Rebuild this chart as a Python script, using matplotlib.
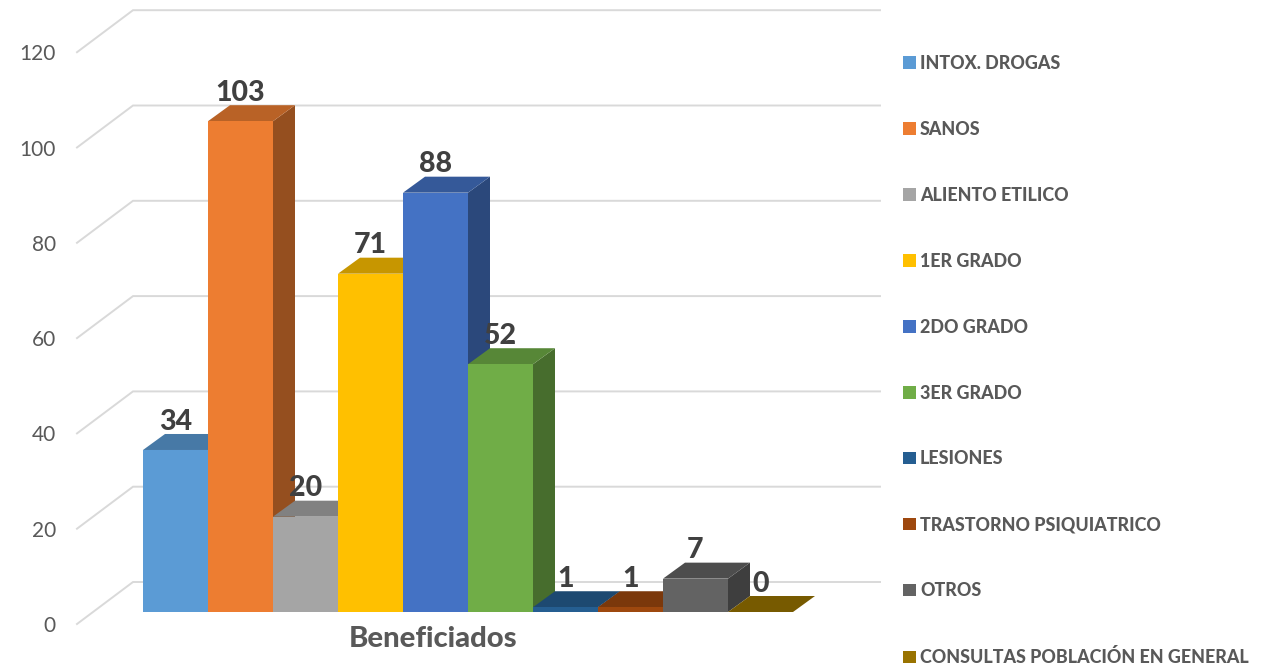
import matplotlib
matplotlib.use("Agg")
import matplotlib.pyplot as plt
from matplotlib.patches import Patch, Polygon
from matplotlib.colors import to_rgb

categories = ["INTOX. DROGAS", "SANOS", "ALIENTO ETILICO", "1ER GRADO", "2DO GRADO",
              "3ER GRADO", "LESIONES", "TRASTORNO PSIQUIATRICO", "OTROS",
              "CONSULTAS POBLACIÓN EN GENERAL"]
values = [34, 103, 20, 71, 88, 52, 1, 1, 7, 0]
colors = ["#5B9BD5", "#ED7D31", "#A5A5A5", "#FFC000", "#4472C4",
          "#70AD47", "#255E91", "#9E480E", "#636363", "#997300"]
y_ticks = [0, 20, 40, 60, 80, 100, 120]
group_label = "Beneficiados"

W, H = 1283, 664
PX_X, PX_Y = 65.0, 4.765      # pixels per bar slot / per value unit
X0, Y0 = 143.0, 612.0         # pixel of bar 0 left edge, value 0
DX, DY = 22 / PX_X, 16 / PX_Y # bar depth in data units
L, R, B, T = 56, 880, 626, 0  # axes box in pixels

plt.rcParams["font.family"] = ["Lato", "DejaVu Sans"]
fig = plt.figure(figsize=(W / 100, H / 100), dpi=100)
ax = fig.add_axes([L / W, 1 - B / H, (R - L) / W, (B - T) / H])
ax.set_xlim((L - X0) / PX_X, (R - X0) / PX_X)
ax.set_ylim((Y0 - B) / PX_Y, (Y0 - T) / PX_Y)
for s in ax.spines.values():
    s.set_visible(False)

# walls / gridlines
front_x, back_x = (77 - X0) / PX_X, (133 - X0) / PX_X
front_dy, back_dy = (Y0 - 624) / PX_Y, (Y0 - 582) / PX_Y
for v in y_ticks:
    ax.plot([front_x, back_x, (R - X0) / PX_X], [v + front_dy, v + back_dy, v + back_dy],
            color="#D9D9D9", lw=1.4, zorder=1, clip_on=False, solid_joinstyle="miter")


def shade(c, f):
    return tuple(x * f for x in to_rgb(c))


for i, (v, c) in enumerate(zip(values, colors)):
    z = 2 + i
    ax.add_patch(Polygon([(i + 1, 0), (i + 1 + DX, DY), (i + 1 + DX, v + DY), (i + 1, v)],
                         closed=True, fc=shade(c, 0.63), ec="none", zorder=z))
    ax.add_patch(Polygon([(i, v), (i + 1, v), (i + 1 + DX, v + DY), (i + DX, v + DY)],
                         closed=True, fc=shade(c, 0.78), ec="none", zorder=z))
    ax.bar(i + 0.5, v, width=1.0, color=c, zorder=z)
    ax.annotate(str(v), (i + 0.5, v), xytext=(0, 20.5), textcoords="offset points",
                ha="center", va="center", fontsize=20.5, fontweight=900,
                color="#404040", zorder=20)

ax.set_yticks([v + front_dy for v in y_ticks], [str(v) for v in y_ticks])
ax.set_xticks([(433 - X0) / PX_X], [group_label])
ax.tick_params(axis="y", length=0, pad=0, labelsize=15, labelcolor="#595959")
ax.tick_params(axis="x", length=0, pad=0, labelsize=21.1, labelcolor="#595959")
for lab in ax.get_xticklabels():
    lab.set_fontweight(900)

handles = [Patch(fc=c, ec="none", label=n) for n, c in zip(categories, colors)]
fig.legend(handles=handles, loc="upper left", bbox_to_anchor=(903 / W, 1 - 55 / H),
           bbox_transform=fig.transFigure, frameon=False, borderaxespad=0, borderpad=0,
           handlelength=0.7, handleheight=0.7, handletextpad=0.25,
           labelspacing=2.73, labelcolor="#595959",
           prop={"size": 12.9, "weight": 900})

fig.savefig("out.png", dpi=100)
